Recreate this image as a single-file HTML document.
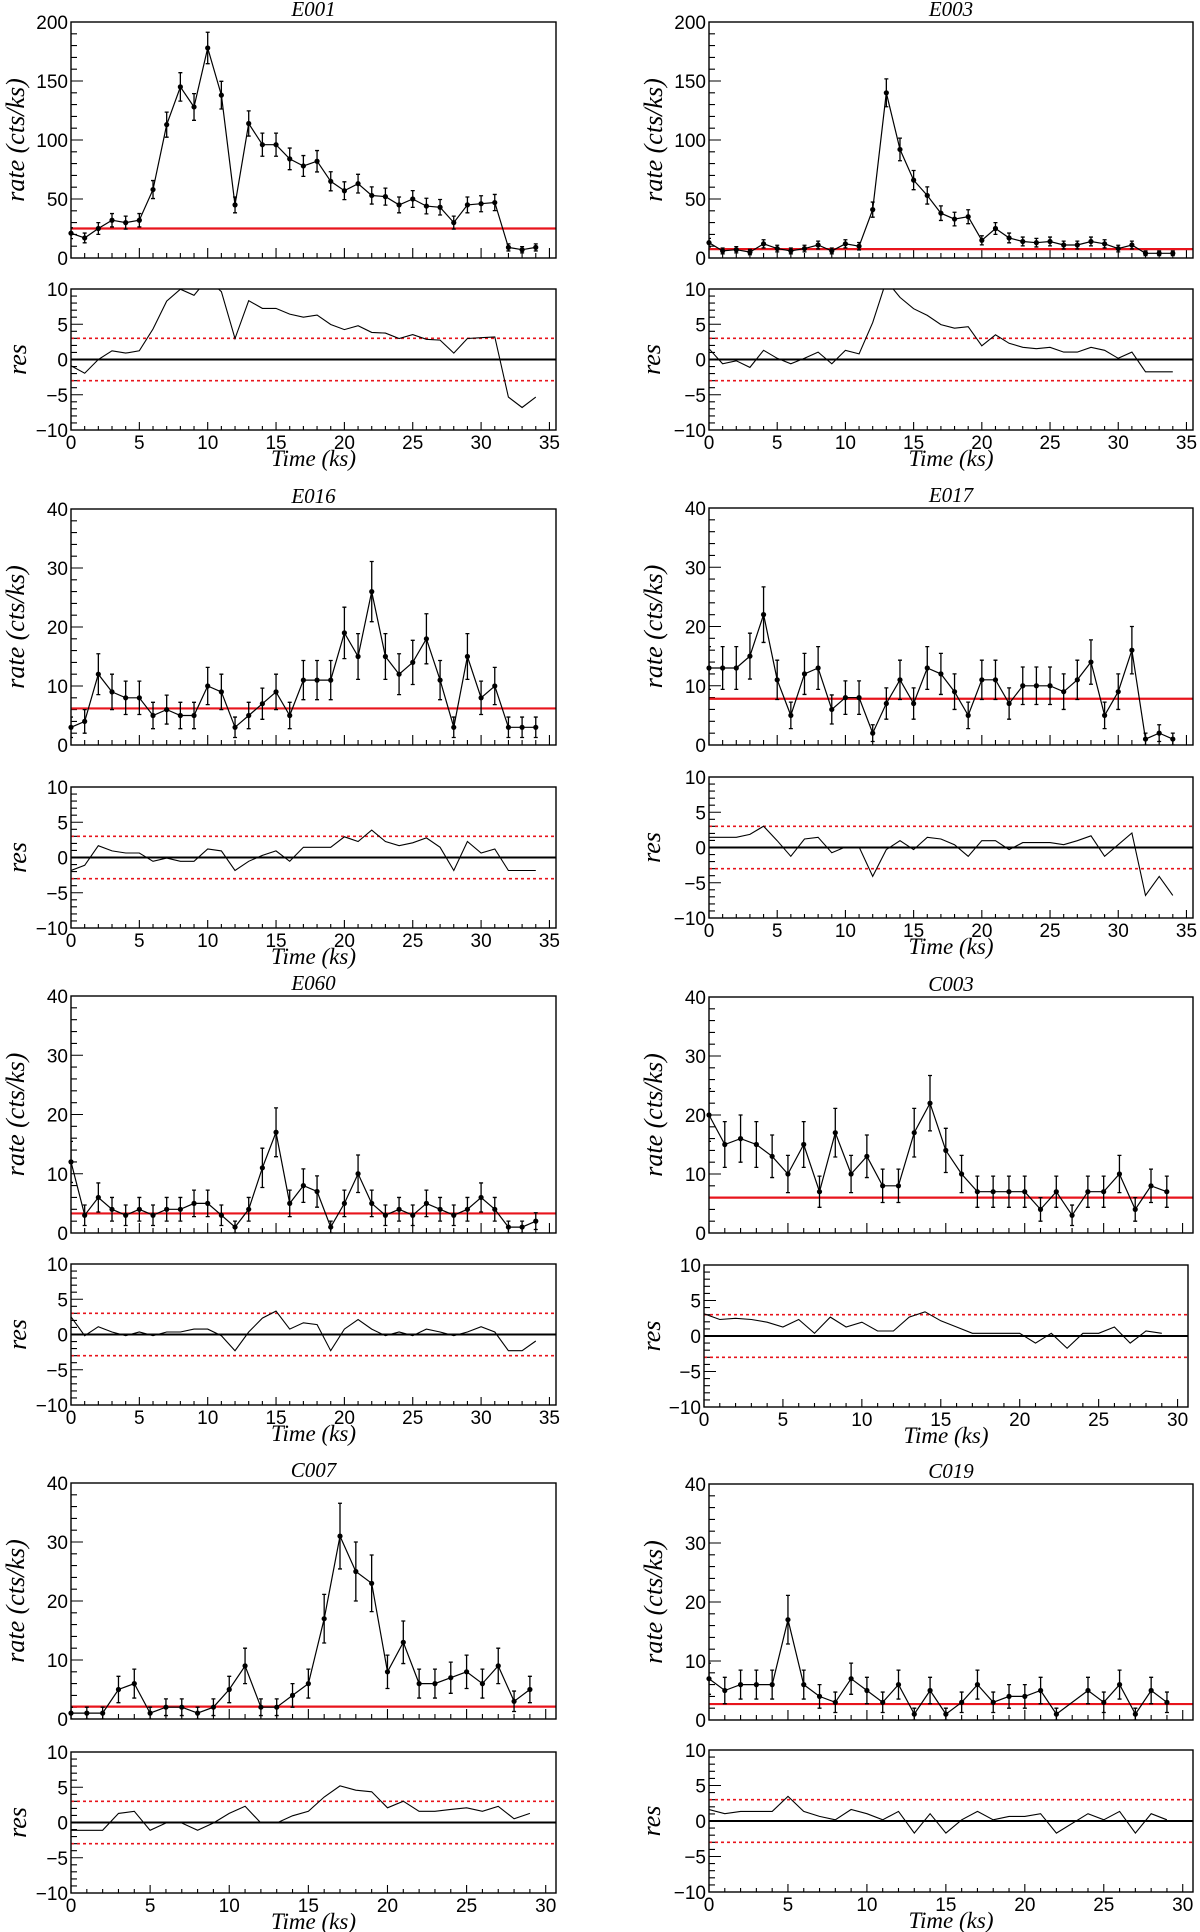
<!DOCTYPE html>
<html><head><meta charset="utf-8">
<style>
html,body{margin:0;padding:0;background:#fff;}
svg{display:block;}
.tk{font-family:"Liberation Sans",Arial,sans-serif;font-size:19px;fill:#000;}
.it{font-family:"Liberation Serif","Times New Roman",serif;font-style:italic;fill:#000;}
</style></head>
<body>
<svg id="fig" width="1200" height="1932" viewBox="0 0 1200 1932" xmlns="http://www.w3.org/2000/svg"></svg>
<script>
// ---- data (rates in cts/ks, 1 ks bins; null = no point) ----
const e001Rates=[21,17,25,32,30,32,58,113,145,128,178,138,45,114,96,96,84,78,82,65,57,63,53,52,45,50,44,43,30,45,46,47,9,7,9];
const e003Rates=[13,6,7,5,12,8,6,8,11,6,12,10,41,140,92,66,53,38,33,35,15,25,17,14,13,14,11,11,14,12,8,11,4,4,4];
const e016Rates=[3,4,12,9,8,8,5,6,5,5,10,9,3,5,7,9,5,11,11,11,19,15,26,15,12,14,18,11,3,15,8,10,3,3,3];
const e017Rates=[13,13,13,15,22,11,5,12,13,6,8,8,2,7,11,7,13,12,9,5,11,11,7,10,10,10,9,11,14,5,9,16,1,2,1];
const e060Rates=[12,3,6,4,3,4,3,4,4,5,5,3,1,4,11,17,5,8,7,1,5,10,5,3,4,3,5,4,3,4,6,4,1,1,2];
const c003Rates=[20,15,16,15,13,10,15,7,17,10,13,8,8,17,22,14,10,7,7,7,7,4,7,3,7,7,10,4,8,7];
const c007Rates=[1,1,1,5,6,1,2,2,1,2,5,9,2,2,4,6,17,31,25,23,8,13,6,6,7,8,6,9,3,5];
const c019Rates=[7,5,6,6,6,17,6,4,3,7,5,3,6,1,5,1,3,6,3,4,4,5,1,null,5,3,6,1,5,3];
const backgrounds=[25,7.5,6.2,7.8,3.3,6,2.1,2.7];
const titles=["E001","E003","E016","E017","E060","C003","C007","C019"];
const rateTicks200=[0,50,100,150,200];
const rateTicks40=[0,10,20,30,40];
const resTicks=[-10,-5,0,5,10];
const timeTicks35=[0,5,10,15,20,25,30,35];
const timeTicks30=[0,5,10,15,20,25,30];

const seriesList=[e001Rates,e003Rates,e016Rates,e017Rates,e060Rates,c003Rates,c007Rates,c019Rates];
// geometry per panel
const geo=[
 {L:71,R:556,T:22,B:258,rL:71,rR:556,rT:289,rB:430,xmax:35.48,ymax:200,minor:10,major:50},
 {L:709,R:1193,T:22,B:258,rL:709,rR:1193,rT:289,rB:430,xmax:35.48,ymax:200,minor:10,major:50},
 {L:71,R:556,T:509,B:745,rL:71,rR:556,rT:787,rB:928,xmax:35.48,ymax:40,minor:2,major:10},
 {L:709,R:1193,T:508,B:745,rL:709,rR:1193,rT:777,rB:918,xmax:35.48,ymax:40,minor:2,major:10},
 {L:71,R:556,T:996,B:1233,rL:71,rR:556,rT:1264,rB:1405,xmax:35.48,ymax:40,minor:2,major:10},
 {L:709,R:1193,T:997,B:1233,rL:704,rR:1188,rT:1265,rB:1407,xmax:30.66,ymax:40,minor:2,major:10},
 {L:71,R:556,T:1483,B:1719,rL:71,rR:556,rT:1752,rB:1893,xmax:30.65,ymax:40,minor:2,major:10},
 {L:709,R:1193,T:1484,B:1720,rL:709,rR:1193,rT:1750,rB:1892,xmax:30.65,ymax:40,minor:2,major:10}
];
const NS="http://www.w3.org/2000/svg";
const svg=document.getElementById('fig');
function mk(tag,attrs,parent){const e=document.createElementNS(NS,tag);for(const k in attrs)e.setAttribute(k,attrs[k]);(parent||svg).appendChild(e);return e;}

geo.forEach((g,i)=>{
  const data=seriesList[i], bkg=backgrounds[i];
  const grp=mk('g',{});
  
  
  const xs=v=>g.L+(v/g.xmax)*(g.R-g.L);
  const rxs=v=>g.rL+(v/g.xmax)*(g.rR-g.rL);
  const ys=v=>g.B-(v/g.ymax)*(g.B-g.T);
  const rys=v=>g.rB-((v+10)/20)*(g.rB-g.rT);
  const cid='clip'+i, rcid='rclip'+i;
  const defs=mk('defs',{},grp);
  const c1=mk('clipPath',{id:cid},defs); mk('rect',{x:g.L,y:g.T,width:g.R-g.L,height:g.B-g.T},c1);
  const c2=mk('clipPath',{id:rcid},defs); mk('rect',{x:g.rL,y:g.rT,width:g.rR-g.rL,height:g.rB-g.rT},c2);
  const cx=(g.L+g.R)/2;
  const left=g.L<300;
  // title
  const t=mk('text',{x:cx,y:g.T-6,'text-anchor':'middle','class':'it','font-size':21},grp);
  t.textContent=titles[i];
  
  
  // y label
  const ylx=left?16:654, ylc=(g.T+g.B)/2;
  const yl=mk('text',{x:ylx,y:ylc,'text-anchor':'middle','class':'it','font-size':26,transform:`rotate(-90 ${ylx} ${ylc}) translate(0 8)`},grp);
  yl.textContent='rate (cts/ks)';
  
  
  const rlc=(g.rT+g.rB)/2, rlx=left?18:652;
  const rl=mk('text',{x:rlx,y:rlc,'text-anchor':'middle','class':'it','font-size':26,transform:`rotate(-90 ${rlx} ${rlc}) translate(0 8)`},grp);
  rl.textContent='res';
  
  
  // x label
  const xl=mk('text',{x:(g.rL+g.rR)/2,y:g.rB+36,'text-anchor':'middle','class':'it','font-size':23},grp);
  xl.textContent='Time (ks)';
  
  
  // ticks
  let p='';
  for(let v=0;v<=g.ymax+1e-9;v+=g.minor){const y=ys(v);const len=(Math.abs(v%g.major)<1e-9)?12:6;p+=`M${g.L},${y}h${len}`;}
  for(let v=0;v<=g.xmax;v+=1){const x=xs(v);const len=(v%5===0)?10:5;p+=`M${x},${g.B}v${-len}`;}
  for(let v=-10;v<=10;v+=1){const y=rys(v);const len=(v%5===0)?12:6;p+=`M${g.rL},${y}h${len}`;}
  for(let v=0;v<=g.xmax;v+=1){const x=rxs(v);const len=(v%5===0)?8:4;p+=`M${x},${g.rB}v${-len}`;}
  const tk=mk('path',{d:p,stroke:'#000','stroke-width':1.1,fill:'none'},grp);
  
  
  // tick labels
  const yTicks=g.ymax===200?rateTicks200:rateTicks40;
  yTicks.forEach(v=>{const e=mk('text',{x:g.L-3,y:ys(v)+7,'text-anchor':'end','class':'tk'},grp);e.textContent=v;
    
    });
  resTicks.forEach(v=>{const e=mk('text',{x:g.rL-3,y:rys(v)+7,'text-anchor':'end','class':'tk'},grp);e.textContent=v<0?'\u2212'+(-v):v;
    
    });
  const xTicks=g.xmax>33?timeTicks35:timeTicks30;
  xTicks.forEach(v=>{const e=mk('text',{x:rxs(v),y:g.rB+19,'text-anchor':'middle','class':'tk'},grp);e.textContent=v;
    
    });
  // background line
  const bl=mk('line',{x1:g.L,x2:g.R,y1:ys(bkg),y2:ys(bkg),stroke:'#e8141c','stroke-width':2.2},grp);
  
  
  // data line + errors
  let eb='';const pts=[];
  data.forEach((v,k)=>{if(v===null)return;pts.push([xs(k),ys(v)]);const er=Math.sqrt(v);
    const y1=ys(v+er),y2=ys(Math.max(v-er,0)),x=xs(k);
    eb+=`M${x},${y1}V${y2}M${x-2},${y1}h4M${x-2},${y2}h4`;});
  const d=pts.map((q,k)=>(k?'L':'M')+q[0].toFixed(1)+','+q[1].toFixed(1)).join('');
  const ln=mk('path',{d:d,stroke:'#000','stroke-width':1.2,fill:'none','clip-path':`url(#${cid})`},grp);
  
  
  const ebp=mk('path',{d:eb,stroke:'#000','stroke-width':1.3,fill:'none','clip-path':`url(#${cid})`},grp);
  
  
  data.forEach((v,k)=>{if(v===null)return;const c=mk('circle',{cx:xs(k),cy:ys(v),r:2.6,fill:'#000'},grp);
    
    });
  // residual panel
  [3,-3].forEach(v=>{const e=mk('line',{x1:g.rL,x2:g.rR,y1:rys(v),y2:rys(v),stroke:'#e8141c','stroke-width':1.6,'stroke-dasharray':'3,3'},grp);
    
    });
  const z=mk('line',{x1:g.rL,x2:g.rR,y1:rys(0),y2:rys(0),stroke:'#000','stroke-width':2},grp);
  
  
  const rp=[];
  data.forEach((v,k)=>{if(v===null)return;rp.push([rxs(k),rys((v-bkg)/Math.sqrt(v))]);});
  const rd=rp.map((q,k)=>(k?'L':'M')+q[0].toFixed(1)+','+q[1].toFixed(1)).join('');
  const rln=mk('path',{d:rd,stroke:'#000','stroke-width':1.1,fill:'none','clip-path':`url(#${rcid})`},grp);
  
  
  // frames
  const f1=mk('rect',{x:g.L,y:g.T,width:g.R-g.L,height:g.B-g.T,fill:'none',stroke:'#000','stroke-width':1.4},grp);
  
  
  const f2=mk('rect',{x:g.rL,y:g.rT,width:g.rR-g.rL,height:g.rB-g.rT,fill:'none',stroke:'#000','stroke-width':1.4},grp);
  
  
});
</script>
</body></html>
